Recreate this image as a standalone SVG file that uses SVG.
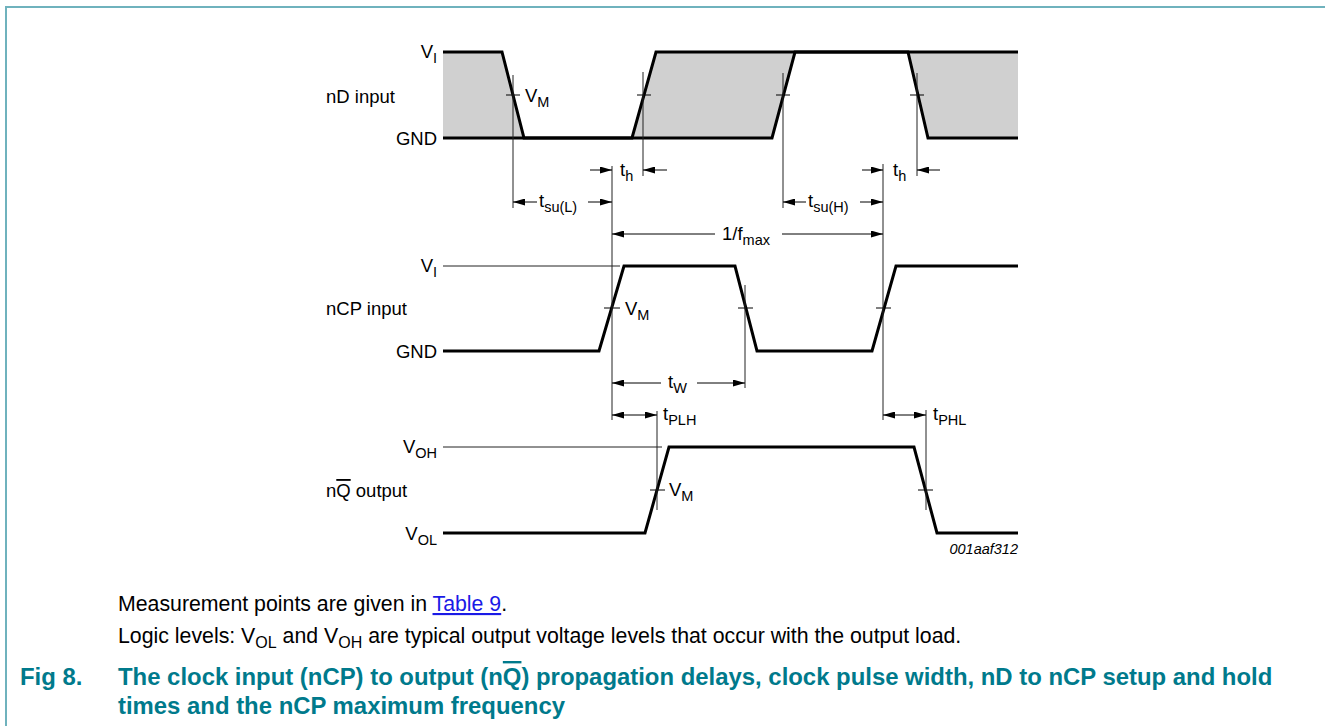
<svg xmlns="http://www.w3.org/2000/svg" width="1325" height="726" viewBox="0 0 1325 726">
<defs>
<marker id="ah" viewBox="0 0 12 7" refX="12" refY="3.5" markerWidth="12" markerHeight="7" markerUnits="userSpaceOnUse" orient="auto-start-reverse"><path d="M0,0 L12,3.5 L0,7 z" fill="#000"/></marker>
<style>
.lbl{font-family:"Liberation Sans",Arial,sans-serif;font-size:18.5px;fill:#000}
.sub{font-size:14.5px}
.trace{fill:none;stroke:#000;stroke-width:3;stroke-linejoin:miter}
.thin{fill:none;stroke:#222;stroke-width:1}
.tick{stroke:#000;stroke-width:1}
.arr{stroke:#000;stroke-width:1;fill:none;marker-end:url(#ah)}
.darr{stroke:#000;stroke-width:1;fill:none;marker-end:url(#ah);marker-start:url(#ah)}
.shade{fill:#d0d0d0;stroke:none}
.cap{font-family:"Liberation Sans",Arial,sans-serif;font-size:21.3px;fill:#000}
.csub{font-size:16px}
.head{font-family:"Liberation Sans",Arial,sans-serif;font-size:23.9px;font-weight:bold;fill:#007a8c}
</style>
</defs>
<rect x="0" y="0" width="1325" height="726" fill="#fff"/>
<path d="M6,726 V7 H1325" fill="none" stroke="#6fb2bd" stroke-width="2"/>

<g id="nD-input">
<polygon class="shade" points="443,52 502,52 524,138 443,138"/>
<polygon class="shade" points="632,138 656,52 795,52 772,138"/>
<polygon class="shade" points="908,52 1018,52 1018,138 928,138"/>
<polyline class="trace" points="443,52 502,52 524,138 632,138 656,52 1018,52"/>
<polyline class="trace" points="443,138 772,138 795,52 908,52 928,138 1018,138"/>
<line class="tick" x1="506" y1="95" x2="520" y2="95"/>
<line class="tick" x1="637" y1="95" x2="651" y2="95"/>
<line class="tick" x1="776" y1="95" x2="790" y2="95"/>
<line class="tick" x1="910" y1="95" x2="924" y2="95"/>
<text class="lbl" x="437" y="58" text-anchor="end">V<tspan class="sub" dy="5">I</tspan></text>
<text class="lbl" x="326" y="103">nD input</text>
<text class="lbl" x="437" y="145" text-anchor="end">GND</text>
<text class="lbl" x="525" y="102">V<tspan class="sub" dy="5">M</tspan></text>
</g>

<g id="nCP-input">
<line class="thin" x1="443" y1="266" x2="620" y2="266"/>
<polyline class="trace" points="443,351 599,351 624,266 735,266 757,351 872,351 896,266 1018,266"/>
<line class="tick" x1="604" y1="308" x2="620" y2="308"/>
<line class="tick" x1="738" y1="308" x2="753" y2="308"/>
<line class="tick" x1="876" y1="308" x2="891" y2="308"/>
<text class="lbl" x="437" y="272" text-anchor="end">V<tspan class="sub" dy="5">I</tspan></text>
<text class="lbl" x="326" y="315">nCP input</text>
<text class="lbl" x="437" y="358" text-anchor="end">GND</text>
<text class="lbl" x="625" y="315">V<tspan class="sub" dy="5">M</tspan></text>
</g>

<g id="nQ-output">
<line class="thin" x1="443" y1="447" x2="662" y2="447"/>
<polyline class="trace" points="443,533 645,533 669,447 914,447 937,533 1018,533"/>
<line class="tick" x1="650" y1="490" x2="665" y2="490"/>
<line class="tick" x1="918" y1="490" x2="933" y2="490"/>
<text class="lbl" x="437" y="453" text-anchor="end">V<tspan class="sub" dy="5">OH</tspan></text>
<text class="lbl" x="326" y="497">n<tspan style="text-decoration:overline">Q</tspan> output</text>
<text class="lbl" x="437" y="540" text-anchor="end">V<tspan class="sub" dy="5">OL</tspan></text>
<text class="lbl" x="669" y="496">V<tspan class="sub" dy="5">M</tspan></text>
<text class="lbl" x="1018" y="554" text-anchor="end" style="font-style:italic;font-size:14.5px">001aaf312</text>
</g>

<g id="connectors">
<line class="thin" x1="513" y1="75" x2="513" y2="208"/>
<line class="thin" x1="643" y1="72" x2="643" y2="176"/>
<line class="thin" x1="783" y1="73" x2="783" y2="208"/>
<line class="thin" x1="917" y1="73" x2="917" y2="176"/>
<line class="thin" x1="612" y1="166" x2="612" y2="420"/>
<line class="thin" x1="883" y1="164" x2="883" y2="420"/>
<line class="thin" x1="745" y1="285" x2="745" y2="388"/>
<line class="thin" x1="657" y1="411" x2="657" y2="510"/>
<line class="thin" x1="926" y1="410" x2="926" y2="510"/>
<line class="arr" x1="590" y1="170" x2="612" y2="170"/>
<line class="arr" x1="667" y1="170" x2="643" y2="170"/>
<line class="arr" x1="862" y1="170" x2="883" y2="170"/>
<line class="arr" x1="940" y1="170" x2="917" y2="170"/>
<line class="arr" x1="537" y1="202" x2="513" y2="202"/>
<line class="arr" x1="588" y1="202" x2="612" y2="202"/>
<line class="arr" x1="806" y1="202" x2="783" y2="202"/>
<line class="arr" x1="860" y1="202" x2="883" y2="202"/>
<line class="arr" x1="715" y1="234" x2="612" y2="234"/>
<line class="arr" x1="782" y1="234" x2="883" y2="234"/>
<line class="arr" x1="661" y1="383" x2="612" y2="383"/>
<line class="arr" x1="697" y1="383" x2="745" y2="383"/>
<line class="darr" x1="612" y1="415" x2="657" y2="415"/>
<line class="darr" x1="883" y1="415" x2="926" y2="415"/>
</g>

<g id="timing-labels">
<text class="lbl" x="620" y="176">t<tspan class="sub" dy="5">h</tspan></text>
<text class="lbl" x="893" y="176">t<tspan class="sub" dy="5">h</tspan></text>
<text class="lbl" x="539" y="207">t<tspan class="sub" dy="5">su(L)</tspan></text>
<text class="lbl" x="808" y="207">t<tspan class="sub" dy="5">su(H)</tspan></text>
<text class="lbl" x="722" y="240">1/f<tspan class="sub" dy="5">max</tspan></text>
<text class="lbl" x="668" y="388">t<tspan class="sub" dy="5">W</tspan></text>
<text class="lbl" x="663" y="420">t<tspan class="sub" dy="5">PLH</tspan></text>
<text class="lbl" x="933" y="420">t<tspan class="sub" dy="5">PHL</tspan></text>
</g>

<g id="caption">
<text class="cap" x="118" y="611">Measurement points are given in <tspan fill="#1a1ae6" style="text-decoration:underline">Table 9</tspan>.</text>
<text class="cap" x="118" y="643">Logic levels: V<tspan class="csub" dy="5">OL</tspan><tspan dy="-5"> and V</tspan><tspan class="csub" dy="5">OH</tspan><tspan dy="-5"> are typical output voltage levels that occur with the output load.</tspan></text>
<text class="head" x="20" y="685">Fig 8.</text>
<text class="head" x="118" y="685">The clock input (nCP) to output (n<tspan style="text-decoration:overline">Q</tspan>) propagation delays, clock pulse width, nD to nCP setup and hold</text>
<text class="head" x="118" y="714">times and the nCP maximum frequency</text>
</g>
</svg>
